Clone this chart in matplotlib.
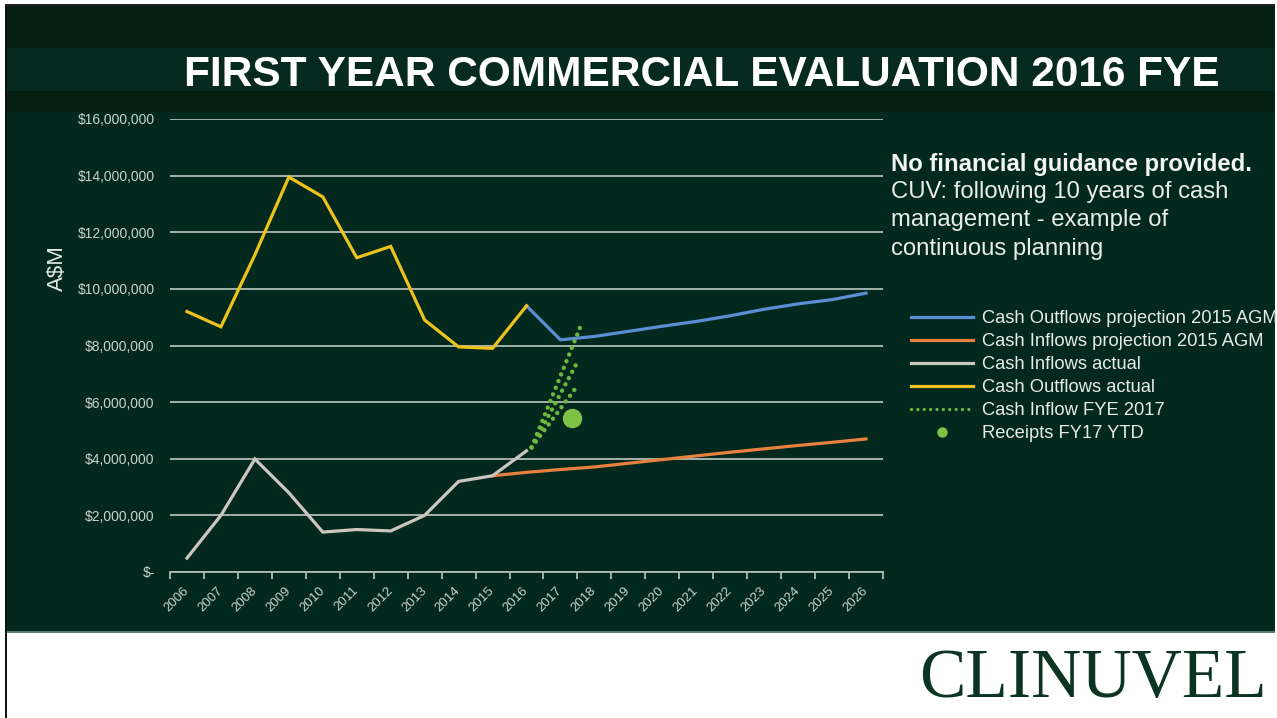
import matplotlib
matplotlib.use('Agg')
import matplotlib.pyplot as plt
from matplotlib.patches import Rectangle
from matplotlib.lines import Line2D
from matplotlib.legend_handler import HandlerLine2D
from matplotlib.ticker import FuncFormatter, FixedLocator

# ---------------- data (A$ millions) ----------------
years = list(range(2006, 2027))
year_labels = [str(y) for y in years]

years_actual = list(range(2006, 2017))
outflows_actual = [9.20, 8.66, 11.20, 13.95, 13.25, 11.10, 11.50, 8.90, 7.95, 7.90, 9.40]
inflows_actual = [0.49, 2.00, 3.99, 2.80, 1.41, 1.50, 1.45, 2.00, 3.20, 3.40, 4.28]

years_out_proj = list(range(2016, 2027))
outflows_proj = [9.40, 8.20, 8.32, 8.50, 8.68, 8.85, 9.05, 9.28, 9.47, 9.62, 9.85]

years_in_proj = list(range(2015, 2027))
inflows_proj = [3.40, 3.52, 3.62, 3.71, 3.84, 3.97, 4.10, 4.23, 4.35, 4.47, 4.58, 4.70]

fye_x = [[2016.15, 2017.65], [2016.15, 2017.47], [2016.15, 2017.42]]
fye_y = [[4.40, 8.85], [4.40, 7.35], [4.40, 6.45]]

receipts_x = [2017.33]
receipts_y = [5.45]

y_ticks = [0, 2, 4, 6, 8, 10, 12, 14, 16]

title = "FIRST YEAR COMMERCIAL EVALUATION 2016 FYE"
note_bold = "No financial guidance provided."
note_text = "CUV: following 10 years of cash\nmanagement - example of\ncontinuous planning"

# ---------------- colours ----------------
C_YELLOW = '#EDC21C'
C_BLUE = '#5B8FD3'
C_ORANGE = '#E8803F'
C_GRAY = '#CCC6C0'
C_GREEN = '#6DB63F'
C_DOT = '#7DC246'
C_GRID = '#AFBDB6'
C_TXT = '#C9D3CE'

W, H = 1277, 718
plt.rcParams['font.family'] = ['Liberation Sans', 'DejaVu Sans']

fig = plt.figure(figsize=(W / 100, H / 100), dpi=100, facecolor='white')

def band(x0, y0, x1, y1, color, z=-10):
    fig.patches.append(Rectangle((x0 / W, 1 - y1 / H), (x1 - x0) / W, (y1 - y0) / H,
                                 transform=fig.transFigure, facecolor=color,
                                 edgecolor='none', zorder=z))

band(6, 6, 1275, 632, '#03281E')
band(6, 6, 1275, 48, '#021F12')
band(6, 48, 1275, 91, '#072A20')
band(6, 91, 1275, 112, '#021F12')
band(6, 631, 1275, 633, '#5F7D72')
band(5, 4, 7, 718, '#111111')
band(5, 4, 1275, 6, '#222222')

ax = fig.add_axes([170 / W, 1 - 572 / H, 713 / W, 453 / H])
ax.set_facecolor('none')
ax.set_xlim(2005.5, 2026.5)
ax.set_ylim(0, 16)

for s in ['top', 'right', 'left']:
    ax.spines[s].set_visible(False)
ax.spines['bottom'].set_color(C_GRID)
ax.spines['bottom'].set_linewidth(1.3)

ax.yaxis.set_major_locator(FixedLocator(y_ticks))
ax.yaxis.set_major_formatter(FuncFormatter(
    lambda v, p: '$-' if v == 0 else '${:,.0f}'.format(v * 1e6)))
ax.tick_params(axis='y', length=0, pad=11, labelsize=10, labelcolor=C_TXT)
ax.grid(axis='y', color=C_GRID, linewidth=1.3)
ax.set_axisbelow(True)

ax.set_xticks(years)
ax.set_xticklabels(year_labels, rotation=45, ha='right', va='center',
                   rotation_mode='anchor', fontsize=9.5, color=C_TXT)
ax.tick_params(axis='x', which='major', length=0, pad=12)
ax.set_xticks([y - 0.5 for y in years] + [years[-1] + 0.5], minor=True)
ax.tick_params(axis='x', which='minor', length=5, width=1.3, color=C_GRID, direction='out')

ax.set_ylabel('A$M', fontsize=16, color='#E2E8E5')
ax.yaxis.set_label_coords(-0.143, 0.67)

lw = 2.3
l_outp, = ax.plot(years_out_proj, outflows_proj, color=C_BLUE, lw=lw,
                  label='Cash Outflows projection 2015 AGM', solid_joinstyle='miter')
l_inp, = ax.plot(years_in_proj, inflows_proj, color=C_ORANGE, lw=lw,
                 label='Cash Inflows projection 2015 AGM')
l_ina, = ax.plot(years_actual, inflows_actual, color=C_GRAY, lw=lw,
                 label='Cash Inflows actual', solid_joinstyle='miter')
l_outa, = ax.plot(years_actual, outflows_actual, color=C_YELLOW, lw=lw,
                  label='Cash Outflows actual', solid_joinstyle='miter')
fye_lines = []
for xs, ys in zip(fye_x, fye_y):
    l, = ax.plot(xs, ys, color=C_GREEN, lw=3.2, linestyle=(0, (0.01, 1.6)),
                 dash_capstyle='round', label='Cash Inflow FYE 2017')
    fye_lines.append(l)
l_rec, = ax.plot(receipts_x, receipts_y, linestyle='none', marker='o',
                 markersize=13, color=C_DOT, label='Receipts FY17 YTD')


class RightMarkerHandler(HandlerLine2D):
    def get_xdata(self, legend, xdescent, ydescent, width, height, fontsize):
        xd, xm = super().get_xdata(legend, xdescent, ydescent, width, height, fontsize)
        return xd, [-xdescent + 0.88 * width]


leg_fye = Line2D([], [], color=C_GREEN, lw=2.4, linestyle=(0, (0.01, 1.9)),
                 dash_capstyle='round')
leg_rec = Line2D([], [], linestyle='none', marker='o', markersize=6.5, color=C_DOT)
leg = fig.legend([l_outp, l_inp, l_ina, l_outa, leg_fye, leg_rec],
                 ['Cash Outflows projection 2015 AGM', 'Cash Inflows projection 2015 AGM',
                  'Cash Inflows actual', 'Cash Outflows actual',
                  'Cash Inflow FYE 2017', 'Receipts FY17 YTD'],
                 loc='upper left', bbox_to_anchor=(911 / W, 1 - 310 / H),
                 frameon=False, fontsize=13.2, labelcolor='#E6EBE8',
                 handlelength=3.4, handletextpad=0.5, labelspacing=0.33,
                 borderpad=0, borderaxespad=0, numpoints=1,
                 handler_map={leg_rec: RightMarkerHandler()})

fig.text(702 / W, 1 - 75 / H, title, ha='center', va='center',
         fontsize=30.5, fontweight='bold', color='white')

fig.text(891 / W, 1 - 165 / H, note_bold, ha='left', va='center',
         fontsize=17.2, fontweight='bold', color='#F2F4F3')
fig.text(891 / W, 1 - 181 / H, note_text, ha='left', va='top',
         fontsize=17.2, color='#E8EDEA', linespacing=1.37)

fig.text(1093 / W, 1 - 680 / H, 'CLINUVEL', ha='center', va='center',
         fontsize=50, color='#0B3422', family='Liberation Serif')

fig.savefig('out.png', dpi=100, facecolor='white')
